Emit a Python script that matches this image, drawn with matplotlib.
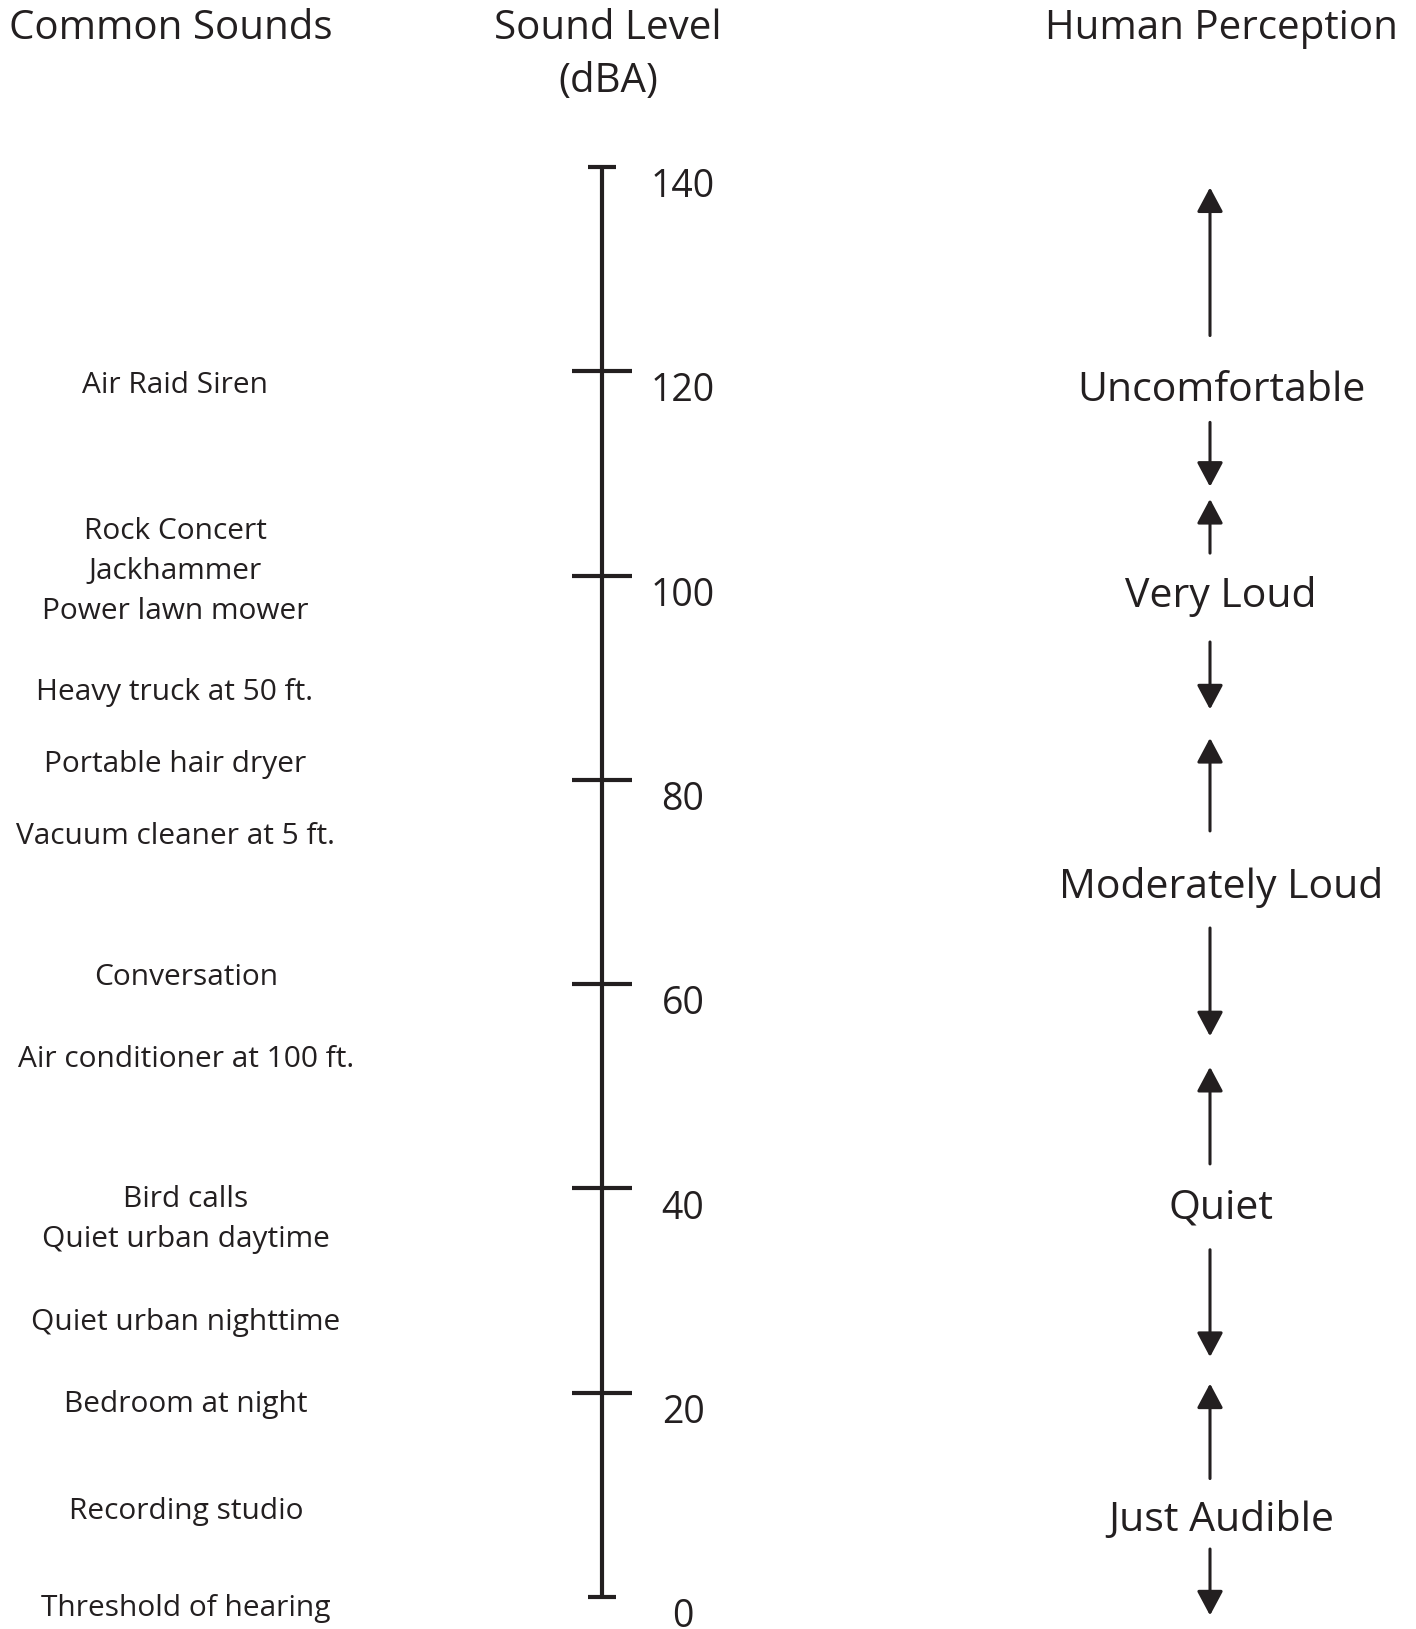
import matplotlib.pyplot as plt
from matplotlib.patches import FancyArrowPatch

# --- Data (levels in dBA) ---
tick_levels = [0, 20, 40, 60, 80, 100, 120, 140]

sound_names = [
    "Air Raid Siren",
    "Rock Concert",
    "Jackhammer",
    "Power lawn mower",
    "Heavy truck at 50 ft.",
    "Portable hair dryer",
    "Vacuum cleaner at 5 ft.",
    "Conversation",
    "Air conditioner at 100 ft.",
    "Bird calls",
    "Quiet urban daytime",
    "Quiet urban nighttime",
    "Bedroom at night",
    "Recording studio",
    "Threshold of hearing",
]
sound_levels = [119.0, 104.7, 100.7, 96.8, 88.9, 81.8, 74.8, 61.0, 53.0,
                39.3, 35.3, 27.2, 19.2, 8.7, -0.8]

perception_names = ["Uncomfortable", "Very Loud", "Moderately Loud", "Quiet", "Just Audible"]
perception_levels = [118.6, 98.4, 70.0, 38.6, 8.0]

# arrows bracketing each perception band (tail -> tip, dBA)
arrow_tails = [123.5, 115.0, 102.2, 93.5, 75.0, 65.5, 42.4, 34.0, 11.6, 4.7]
arrow_tips = [138.0, 108.7, 107.5, 86.9, 84.1, 54.9, 51.9, 23.5, 20.9, -1.8]

# --- Layout ---
W, H = 1416, 1629
INK = "#231f20"
plt.rcParams["font.family"] = ["Open Sans", "DejaVu Sans"]

axis_x = 602
tick_label_x = 683
arrow_x = 1210
perception_x = 1221

fig = plt.figure(figsize=(W / 100, H / 100), dpi=100)
ax = fig.add_axes([0, 0, 1, 1])
ax.set_xlim(0, W)
ax.set_ylim(-3.13, 156.35)
ax.axis("off")


def fig_xy(x, y):
    """Pixel position (from top-left) to figure fraction."""
    return x / W, 1 - y / H


# --- Headers ---
hdr = dict(fontsize=29, color=INK, ha="center", va="center_baseline")
fig.text(*fig_xy(171, 24), "Common Sounds", **hdr)
fig.text(*fig_xy(608, 24), "Sound Level", **hdr)
fig.text(*fig_xy(608, 77), "(dBA)", **hdr)
fig.text(*fig_xy(1221, 24), "Human Perception", **hdr)

# --- Scale ---
ax.vlines(axis_x, min(tick_levels), max(tick_levels), color=INK, lw=3)
for v in tick_levels:
    half = 14 if v in (min(tick_levels), max(tick_levels)) else 30
    ax.hlines(v, axis_x - half, axis_x + half, color=INK, lw=3)
    ax.annotate(str(v), xy=(tick_label_x, v), xytext=(0, -11.3),
                textcoords="offset points", ha="center", va="center_baseline",
                fontsize=27, color=INK)

# --- Common sounds ---
for name, lvl in zip(sound_names, sound_levels):
    x = 175 if lvl > 70 else 186
    ax.text(x, lvl, name, ha="center", va="center_baseline", fontsize=21.5, color=INK)

# --- Human perception ---
for name, lvl in zip(perception_names, perception_levels):
    ax.text(perception_x, lvl, name, ha="center", va="center_baseline", fontsize=29.5, color=INK)

for tail, tip in zip(arrow_tails, arrow_tips):
    ax.add_patch(FancyArrowPatch(
        (arrow_x, tail), (arrow_x, tip),
        arrowstyle="-|>,head_length=1.5,head_width=0.8",
        mutation_scale=10, lw=2.2, color=INK,
        shrinkA=0, shrinkB=0,
    ))

fig.savefig("out.png", dpi=100)
